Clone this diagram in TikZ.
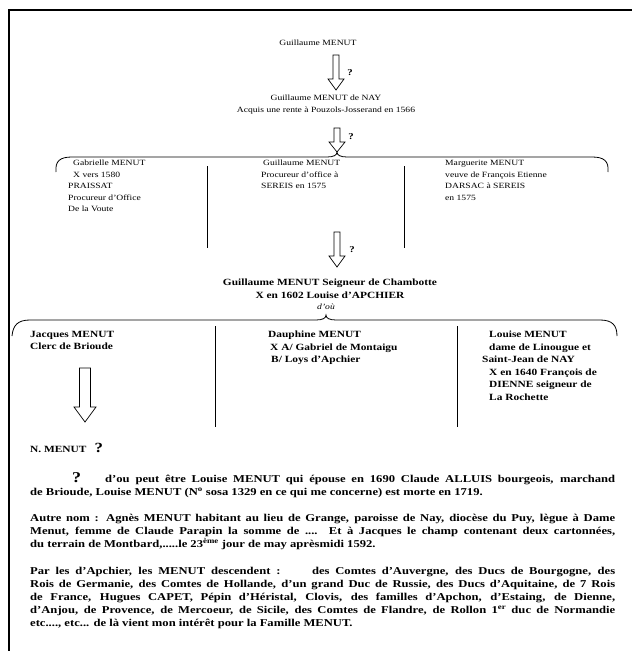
\documentclass[tikz,border=0pt]{standalone}
\usepackage{fontspec}
\setmainfont{Liberation Serif}[FakeStretch=1.2]
\usetikzlibrary{calc}

\begin{document}
\begin{tikzpicture}[
  x=1pt, y=-1pt,
  plain/.style={inner sep=0pt, anchor=north west, align=left, font=\fontsize{8}{11.5}\selectfont},
  heavy/.style={inner sep=0pt, anchor=north west, align=left, font=\bfseries\fontsize{9.5}{12.5}\selectfont},
  para/.style={inner sep=0pt, anchor=north west, text width=585pt, align=justify, font=\bfseries\fontsize{10.5}{13}\selectfont},
  qmark/.style={inner sep=0pt, font=\bfseries\fontsize{9}{9}\selectfont},
  sep/.style={line width=0.7pt},
  brace/.style={line width=0.8pt},
  blockarrow/.style n args={3}{line width=0.7pt, to path={
    ($(\tikztostart)+(-#1,0)$) -- ($(\tikztotarget)+(-#1,-#3)$) -- ($(\tikztotarget)+(-#2,-#3)$)
    -- (\tikztotarget) -- ($(\tikztotarget)+(#2,-#3)$) -- ($(\tikztotarget)+(#1,-#3)$)
    -- ($(\tikztostart)+(#1,0)$) -- cycle}}
]
\useasboundingbox (0,0) rectangle (632,651);
% frame
\draw[line width=2.5pt] (9,651) -- (9,10) -- (632,10);

% first generations
\node[plain, anchor=north] (gm) at (318,40) {Guillaume MENUT};
\node[plain, anchor=north, align=center] (gmnay) at (326,95) {Guillaume MENUT de NAY\\Acquis une rente à Pouzols-Josserand en 1566};
\coordinate (a1s) at (336,55);
\coordinate (a1e) at (336,90);
\draw[blockarrow={3}{8}{11}] (a1s) to (a1e);
\node[qmark] (q1) at (350,73) {?};

\coordinate (a2s) at (337,128);
\coordinate (peak1) at (337,152);
\draw[blockarrow={3}{8}{10}] (a2s) to (peak1);
\node[qmark] (q2) at (351,137) {?};

% first brace
\coordinate (b1l) at (56,172);
\coordinate (b1r) at (608,172);
\draw[brace] (b1l) .. controls (55,161) and (60,157) .. (72,157) -- (327,157)
  .. controls (334,157) and (337,155) .. (peak1)
  .. controls (337,155) and (340,157) .. (347,157) -- (592,157)
  .. controls (604,157) and (609,161) .. (b1r);

\node[plain] (gabrielle) at (68,160) {\hspace*{5pt}Gabrielle MENUT\\\hspace*{5pt}X vers 1580\\PRAISSAT\\Procureur d'Office\\De la Voute};
\node[plain] (guillaume) at (261,160) {\hspace*{2pt}Guillaume MENUT\\Procureur d'office à\\SEREIS en 1575};
\node[plain] (marguerite) at (445,160) {Marguerite MENUT\\veuve de François Etienne\\DARSAC à SEREIS\\en 1575};
\coordinate (s1t) at (207,166);
\coordinate (s1b) at (207,248);
\coordinate (s2t) at (404,166);
\coordinate (s2b) at (404,248);
\draw[sep] (s1t) -- (s1b);
\draw[sep] (s2t) -- (s2b);

\coordinate (a3s) at (337,232);
\coordinate (a3e) at (337,267);
\draw[blockarrow={3}{8}{11}] (a3s) to (a3e);
\node[qmark] (q3) at (352,250) {?};

% seigneur de Chambotte
\node[heavy, anchor=north, align=center] (chambotte) at (330,279) {Guillaume MENUT Seigneur de Chambotte\\X en 1602 Louise d'APCHIER};
\node[plain, anchor=north] (dou) at (326,304) {\itshape d'où};

\coordinate (peak2) at (326,315);
\coordinate (b2l) at (12,336);
\coordinate (b2r) at (617,336);
\draw[brace] (b2l) .. controls (13,325) and (18,320) .. (30,320) -- (316,320)
  .. controls (323,320) and (326,318) .. (peak2)
  .. controls (326,318) and (329,320) .. (336,320) -- (600,320)
  .. controls (612,320) and (617,325) .. (b2r);

\node[heavy] (jacques) at (30,331) {Jacques MENUT\\Clerc de Brioude};
\node[heavy] (dauphine) at (268,331) {Dauphine MENUT\\\hspace*{2pt}X A/ Gabriel de Montaigu\\\hspace*{3pt}B/ Loys d'Apchier};
\node[heavy] (louise) at (482,331) {\hspace*{7pt}Louise MENUT\\\hspace*{7pt}dame de Linougue et\\Saint-Jean de NAY\\\hspace*{7pt}X en 1640 François de\\\hspace*{7pt}DIENNE seigneur de\\\hspace*{7pt}La Rochette};
\coordinate (s3t) at (215,326);
\coordinate (s3b) at (215,427);
\coordinate (s4t) at (457,326);
\coordinate (s4b) at (457,427);
\draw[sep] (s3t) -- (s3b);
\draw[sep] (s4t) -- (s4b);

\coordinate (a4s) at (85,368);
\coordinate (a4e) at (85,422);
\draw[blockarrow={5.5}{11}{15}] (a4s) to (a4e);

\node[heavy, anchor=base west] (nmenut) at (30,452) {N. MENUT\hspace{8pt}{\fontsize{14}{14}\selectfont ?}};

% notes
\node[para] (p1) at (30,472) {\hspace*{42pt}{\fontsize{15}{13}\selectfont ?}\hspace{24pt}d'ou peut être Louise MENUT qui épouse en 1690 Claude ALLUIS bourgeois, marchand\linebreak de Brioude, Louise MENUT (N\textsuperscript{o} sosa 1329 en ce qui me concerne) est morte en 1719.};
\node[para] (p2) at (30,514) {Autre nom : Agnès MENUT habitant au lieu de Grange, paroisse de Nay, diocèse du Puy, lègue à Dame\linebreak Menut, femme de Claude Parapin la somme de .... Et à Jacques le champ contenant deux cartonnées,\linebreak du terrain de Montbard,.....le 23\textsuperscript{ème} jour de may aprèsmidi 1592.};
\node[para] (p3) at (30,567) {Par les d'Apchier, les MENUT descendent :\hspace{22pt} des Comtes d'Auvergne, des Ducs de Bourgogne, des\linebreak Rois de Germanie, des Comtes de Hollande, d'un grand Duc de Russie, des Ducs d'Aquitaine, de 7 Rois\linebreak de France, Hugues CAPET, Pépin d'Héristal, Clovis, des familles d'Apchon, d'Estaing, de Dienne,\linebreak d'Anjou, de Provence, de Mercoeur, de Sicile, des Comtes de Flandre, de Rollon 1\textsuperscript{er} duc de Normandie\linebreak etc...., etc... de là vient mon intérêt pour la Famille MENUT.};
\end{tikzpicture}
\end{document}
